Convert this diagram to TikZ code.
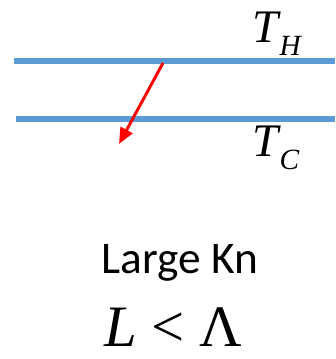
\documentclass[tikz,border=0pt]{standalone}
\usepackage{fontspec}
\usepackage{tikz}
\usetikzlibrary{arrows.meta,positioning}
\setmainfont{Liberation Serif}
\newfontfamily\labelfont{Carlito}
\definecolor{plateblue}{HTML}{5B9BD5}
\definecolor{pathred}{HTML}{FF0000}
\newcommand{\plateT}[1]{\textit{T}\kern-1pt\raisebox{-9.5pt}{\fontsize{22}{22}\selectfont\textit{#1}}}
\tikzset{
  plate/.style={draw=plateblue,line width=3.8pt},
  freepath/.style={-{Triangle[length=12pt,width=10pt]},line width=2.2pt,
                   draw=pathred},
  templabel/.style={anchor=base west,inner sep=0pt,
                    font=\fontsize{35}{35}\selectfont},
  caption/.style={anchor=base,inner sep=0pt,
                  font=\labelfont\fontsize{34}{34}\selectfont}
}
\begin{document}
\begin{tikzpicture}[x=0.75pt,y=-0.75pt]
    \path[use as bounding box] (0,0) rectangle (335,359);
    \coordinate (hotL) at (14,61);
    \coordinate (hotR) at (335,61);
    \coordinate (coldL) at (16,119);
    \coordinate (coldR) at (335,119);
    \draw[plate] (hotL) -- (hotR);
    \draw[plate] (coldL) -- (coldR);

    \coordinate (hit) at (163,63);
    \coordinate (miss) at (119,144);
    \draw[freepath] (hit) -- (miss);

    \node[templabel] (th) at (252,43) {\plateT{H}};
    \node[templabel] (tc) at (252,157) {\plateT{C}};

    \node[caption] (kn) at (180,273) {Large Kn};
    \node[anchor=base,inner sep=0pt,font=\fontsize{44}{44}\selectfont] (rel)
      at (173,346) {\textit{L} < Λ};
  \end{tikzpicture}
\end{document}
